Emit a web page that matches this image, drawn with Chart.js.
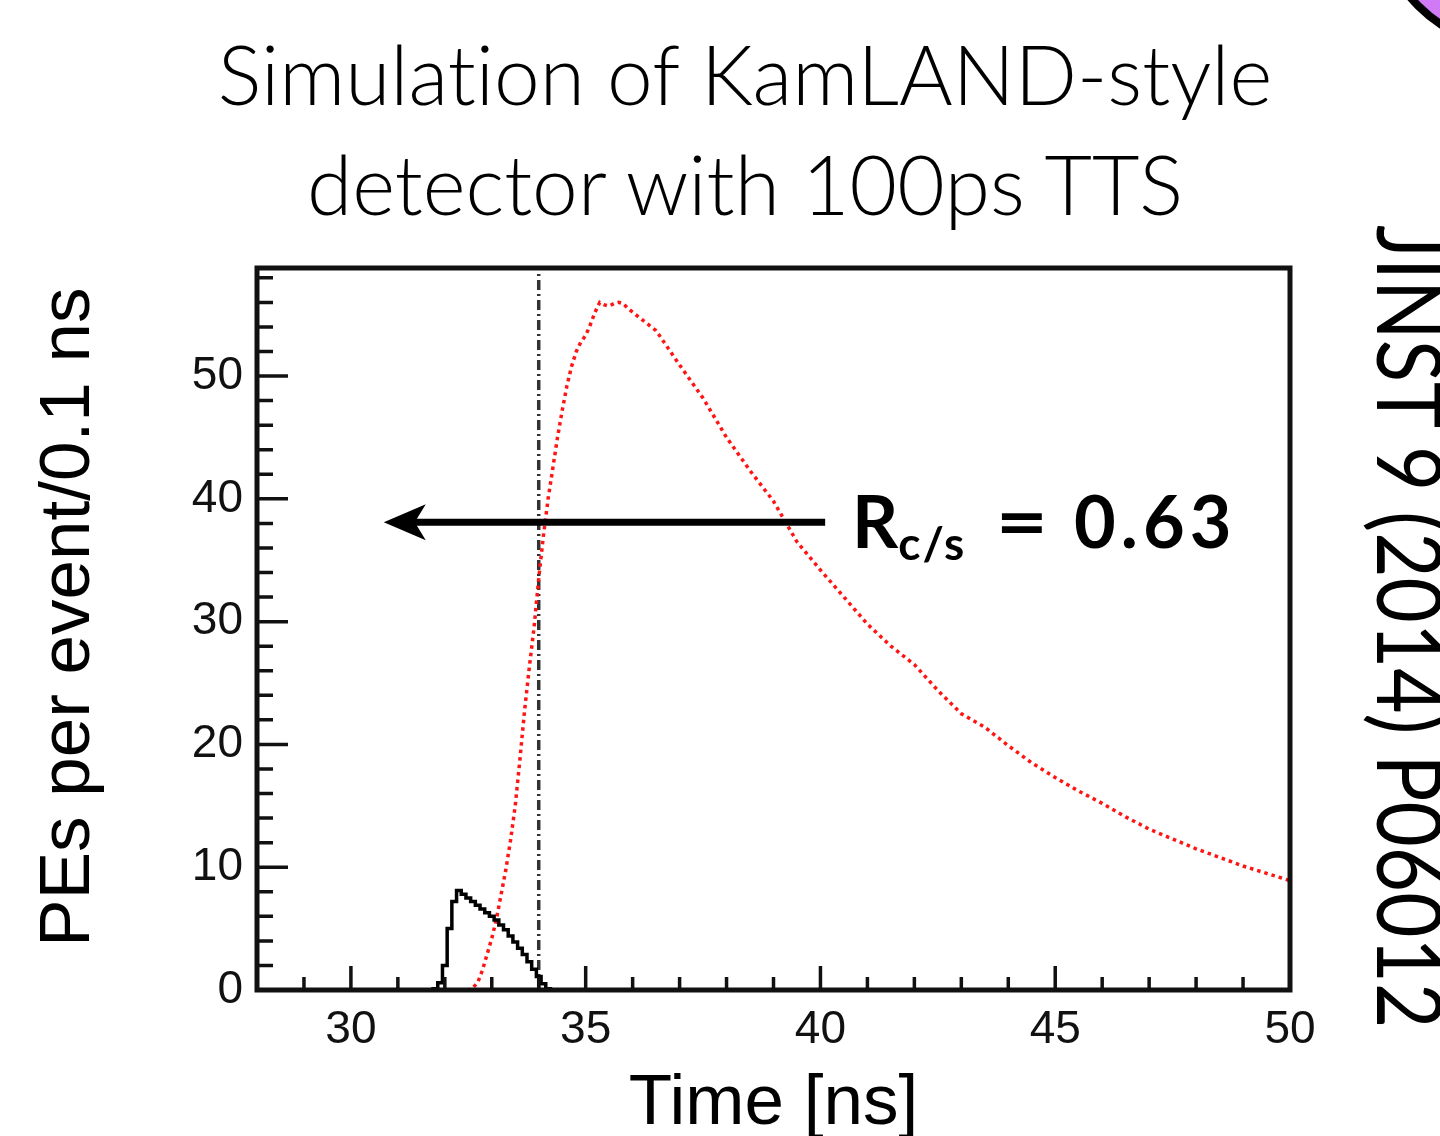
<!DOCTYPE html>
<html>
<head>
<meta charset="utf-8">
<script src="https://cdn.jsdelivr.net/npm/chart.js@4.4.1/dist/chart.umd.min.js"></script>
<style>
    body { margin: 0; background: #fff; }
    #wrap { position: relative; width: 1440px; height: 1136px; overflow: hidden; background: #fff; }
    #title { position: absolute; left: 0; top: 18px; width: 1490px; text-align: center; font-family: Lato, sans-serif; font-weight: 300; font-size: 82px; line-height: 110px; color: #000; font-variant-ligatures: none; }
    #ref { position: absolute; left: 1468px; top: 225px; transform-origin: 0 0; transform: rotate(90deg) scaleX(0.85); font-family: Lato, sans-serif; font-weight: 400; font-size: 92px; white-space: nowrap; color: #000; }
    #rlabel { position: absolute; left: 852px; top: 477px; font-family: Lato, sans-serif; font-weight: 700; font-size: 72px; white-space: nowrap; color: #000; }
    #rlabel sub { font-size: 46px; vertical-align: -12px; letter-spacing: 2px; }
    #eq { display: inline-block; margin-left: 35px; transform: scaleX(1.25); }
    #val { display: inline-block; margin-left: 31px; letter-spacing: 5px; }
    #deco { position: absolute; left: 1371px; top: -250px; width: 303px; height: 303px; border-radius: 50%; background: #d07af6; border: 8px solid #000; box-sizing: border-box; }
</style>
</head>
<body>
<div id="wrap">
    <canvas id="pulseChart"></canvas>
    <div id="title">Simulation of KamLAND-style<br>detector with 100ps TTS</div>
    <div id="ref">JINST 9 (2014) P06012</div>
    <div id="rlabel">R<sub>c/s</sub><span id="eq">=</span><span id="val">0.63</span></div>
    <div id="deco"></div>
</div>
<script>
    // cherenkov light (black histogram), 0.1 ns bins
    const blackTime = [28, 31.7, 31.8, 31.9, 32.0, 32.1, 32.2, 32.3, 32.4, 32.5, 32.6, 32.7, 32.8, 32.9, 33.0,
        33.1, 33.2, 33.3, 33.4, 33.5, 33.6, 33.7, 33.8, 33.9, 34.0, 34.1, 34.2, 34.3, 50]
    const blackPEs = [0, 0, 0.1, 0.6, 2.0, 5.0, 7.2, 8.1, 7.8, 7.5, 7.2, 6.9, 6.6, 6.3, 6.0,
        5.7, 5.3, 4.9, 4.4, 3.9, 3.4, 2.9, 2.3, 1.7, 1.1, 0.5, 0.1, 0, 0]

    // scintillation light (red dotted)
    const redTime = [28, 32.5, 32.6, 32.7, 32.8, 32.9, 33.0, 33.1, 33.2, 33.3, 33.4, 33.5, 33.6, 33.7, 33.8,
        33.9, 34.0, 34.1, 34.2, 34.3, 34.4, 34.5, 34.6, 34.7, 34.8, 34.9, 35.0, 35.1, 35.2, 35.3, 35.4,
        35.5, 35.6, 35.7, 35.8, 35.9, 36.0, 36.5, 37.0, 37.5, 38.0, 38.5, 39.0, 39.5, 40.0, 40.5, 41.0,
        41.5, 42.0, 42.5, 43.0, 43.5, 44.0, 44.5, 45.0, 45.5, 46.0, 46.5, 47.0, 47.5, 48.0, 48.5, 49.0,
        49.5, 50.0]
    const redPEs = [0, 0, 0.2, 0.6, 1.6, 2.9, 4.2, 5.8, 7.8, 9.8, 12.2, 15.0, 18.8, 22.8, 26.3,
        29.5, 33.5, 37.0, 40.0, 42.5, 45.0, 47.2, 49.2, 50.8, 52.0, 52.8, 53.3, 54.2, 55.2, 56.0, 55.8,
        55.7, 55.9, 56.0, 55.9, 55.5, 55.2, 53.7, 50.9, 48.2, 45.0, 42.3, 39.8, 36.5, 34.2, 32.0, 29.8,
        28.0, 26.5, 24.4, 22.5, 21.4, 19.9, 18.5, 17.3, 16.2, 15.2, 14.1, 13.1, 12.3, 11.5, 10.8, 10.1,
        9.5, 8.9]

    // time cut (dash-dot line)
    const cutTime = [34.0, 34.0]
    const cutPEs = [0, 58.8]

    const xTickValues = [30, 35, 40, 45, 50]
    const yTickValues = [0, 10, 20, 30, 40, 50]

    // arrow pointing left to the cherenkov region
    const arrowFrom = [40.1, 38.1]
    const arrowTo = [30.7, 38.1]

    const toPoints = (xs, ys) => xs.map((x, i) => ({ x: x, y: ys[i] }))

    const tickFont = { family: '"Liberation Sans", Arial, sans-serif', size: 46 }
    const titleFont = { family: '"Liberation Sans", Arial, sans-serif', size: 71, lineHeight: 1 }

    // frame, inward ticks and the arrow
    const framePlugin = {
        id: 'frame',
        afterDatasetsDraw(chart) {
            const ctx = chart.ctx
            const area = chart.chartArea
            const xs = chart.scales.x
            const ys = chart.scales.y
            ctx.save()
            ctx.strokeStyle = '#111'
            ctx.lineWidth = 3.5
            ctx.beginPath()
            for (let v = 28; v <= 50; v += 1) {
                const px = xs.getPixelForValue(v)
                const len = v % 5 === 0 ? 24 : 13
                ctx.moveTo(px, area.bottom)
                ctx.lineTo(px, area.bottom - len)
            }
            for (let v = 0; v <= 58; v += 2) {
                const py = ys.getPixelForValue(v)
                const len = v % 10 === 0 ? 31 : 16
                ctx.moveTo(area.left, py)
                ctx.lineTo(area.left + len, py)
            }
            ctx.stroke()

            ctx.lineWidth = 5
            ctx.strokeRect(area.left, area.top, area.right - area.left, area.bottom - area.top)

            // arrow
            const x1 = xs.getPixelForValue(arrowFrom[0])
            const y1 = ys.getPixelForValue(arrowFrom[1])
            const x2 = xs.getPixelForValue(arrowTo[0])
            const y2 = ys.getPixelForValue(arrowTo[1])
            ctx.strokeStyle = '#000'
            ctx.lineWidth = 7
            ctx.beginPath()
            ctx.moveTo(x1, y1)
            ctx.lineTo(x2 + 30, y2)
            ctx.stroke()
            ctx.fillStyle = '#000'
            ctx.beginPath()
            ctx.moveTo(x2, y2)
            ctx.lineTo(x2 + 42, y2 - 18)
            ctx.lineTo(x2 + 31, y2)
            ctx.lineTo(x2 + 42, y2 + 18)
            ctx.closePath()
            ctx.fill()
            ctx.restore()
        }
    }

    const pulseCanvas = document.getElementById('pulseChart')
    pulseCanvas.width = 1440
    pulseCanvas.height = 1136

    new Chart(pulseCanvas, {
        type: 'line',
        data: {
            datasets: [
                {
                    label: 'Cherenkov',
                    data: toPoints(blackTime, blackPEs),
                    borderColor: '#000',
                    borderWidth: 3.5,
                    stepped: 'middle',
                    pointRadius: 0,
                    fill: false
                },
                {
                    label: 'Scintillation',
                    data: toPoints(redTime, redPEs),
                    borderColor: '#ff1414',
                    borderWidth: 3.5,
                    borderDash: [3.5, 4],
                    pointRadius: 0,
                    tension: 0,
                    fill: false
                },
                {
                    label: 'Cut',
                    data: toPoints(cutTime, cutPEs),
                    borderColor: '#333',
                    borderWidth: 3.5,
                    borderDash: [10, 4, 2, 4],
                    pointRadius: 0,
                    fill: false
                }
            ]
        },
        options: {
            responsive: false,
            animation: false,
            devicePixelRatio: 1,
            layout: { padding: { top: 268, right: 150, left: 0, bottom: 0 } },
            plugins: {
                legend: { display: false },
                tooltip: { enabled: false }
            },
            scales: {
                x: {
                    type: 'linear',
                    min: 28,
                    max: 50,
                    afterBuildTicks: s => { s.ticks = xTickValues.map(v => ({ value: v })) },
                    afterFit: s => { s.height = 146 },
                    grid: { display: false, drawTicks: false },
                    border: { display: false },
                    ticks: { font: tickFont, color: '#111', padding: 13, maxRotation: 0 },
                    title: { display: true, text: 'Time [ns]', font: titleFont, color: '#000', padding: { top: 0, bottom: -4 } }
                },
                y: {
                    type: 'linear',
                    min: 0,
                    max: 58.8,
                    afterBuildTicks: s => { s.ticks = yTickValues.map(v => ({ value: v })) },
                    afterFit: s => { s.width = 257 },
                    grid: { display: false, drawTicks: false },
                    border: { display: false },
                    ticks: { font: tickFont, color: '#111', padding: 14 },
                    title: { display: true, text: '\u2004PEs per event/0.1 ns', font: titleFont, color: '#000', padding: { top: 34, bottom: 0 } }
                }
            }
        },
        plugins: [framePlugin]
    })
</script>
</body>
</html>
